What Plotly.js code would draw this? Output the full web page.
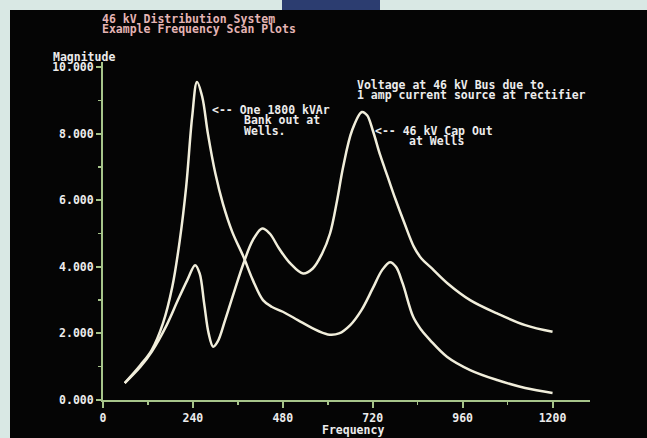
<!DOCTYPE html>
<html>
<head>
<meta charset="utf-8">
<script src="https://cdn.plot.ly/plotly-3.0.1.min.js"></script>
<style>
  html, body { margin: 0; padding: 0; width: 647px; height: 438px; overflow: hidden; background: #d9e8e4; }
  #bluepatch { position: absolute; left: 282px; top: 0; width: 98px; height: 11px; background: #2c3d70; }
  #chart { position: absolute; left: 10px; top: 10px; width: 637px; height: 428px; background: #050505; }
</style>
</head>
<body>
<div id="bluepatch"></div>
<div id="chart"></div>
<script>
// Curve 1: one 1800 kVAr bank out at Wells
const freqA = [58, 100, 130, 160, 185, 205, 222, 238, 251, 265, 280, 300, 320, 345, 375, 400, 427, 450, 480, 520, 560, 600, 630, 660, 690, 720, 745, 766, 782, 800, 828, 850, 873, 918, 980, 1052, 1127, 1200];
const magA  = [0.51, 1.05, 1.5, 2.3, 3.4, 4.8, 6.4, 8.5, 9.55, 9.1, 8.0, 6.8, 5.9, 5.05, 4.3, 3.6, 3.0, 2.8, 2.65, 2.4, 2.15, 1.97, 2.0, 2.25, 2.7, 3.35, 3.9, 4.14, 4.0, 3.5, 2.5, 2.1, 1.8, 1.3, 0.9, 0.6, 0.36, 0.21];
// Curve 2: 46 kV cap out at Wells
const freqB = [58, 100, 130, 170, 200, 225, 246, 258, 270, 282, 294, 306, 326, 350, 375, 400, 425, 445, 470, 500, 534, 560, 585, 606, 625, 641, 665, 691, 705, 720, 740, 760, 780, 805, 830, 850, 878, 920, 980, 1052, 1127, 1200];
const magB  = [0.51, 1.0, 1.45, 2.25, 3.0, 3.6, 4.05, 3.8, 2.9, 2.0, 1.6, 1.75, 2.4, 3.25, 4.1, 4.8, 5.15, 5.0, 4.55, 4.1, 3.8, 3.95, 4.4, 5.0, 6.0, 7.0, 8.1, 8.65, 8.55, 8.1, 7.35, 6.7, 6.05, 5.3, 4.6, 4.25, 3.95, 3.5, 3.0, 2.6, 2.25, 2.05];

const xTicks = [0, 240, 480, 720, 960, 1200];
const yTicks = [0, 2, 4, 6, 8, 10];
const yTickText = ['0.000', '2.000', '4.000', '6.000', '8.000', '10.000'];

const titleLines = ['46 kV Distribution System', 'Example Frequency Scan Plots'];
const yLabel = 'Magnitude';
const xLabel = 'Frequency';
const noteA = ['<-- One 1800 kVAr', 'Bank out at', 'Wells.'];
const noteTop = ['Voltage at 46 kV Bus due to', '1 amp current source at rectifier'];
const noteB = ['<-- 46 kV Cap Out', 'at Wells'];

const FONT = 'DejaVu Sans Mono, Liberation Mono, monospace';
const curveColor = '#f1eedb';
const axisColor = '#a6c48a';
const txt = '#ececec';
const FS = 11.5;

const lineStyle = {color: curveColor, width: 2.5, shape: 'spline', smoothing: 1};
const traces = [
  {x: freqA, y: magA, mode: 'lines', line: lineStyle, hoverinfo: 'skip'},
  {x: freqB, y: magB, mode: 'lines', line: lineStyle, hoverinfo: 'skip'}
];

function ann(text, x, y, xref, yref, color, anchor) {
  return {text: text, x: x, y: y, xref: xref, yref: yref, showarrow: false,
          xanchor: anchor || 'left', yanchor: 'middle',
          font: {family: FONT, size: FS, color: color || txt, weight: 'bold'}};
}

const annotations = [
  ann(titleLines[0], -0.006, 1.127, 'paper', 'paper', '#e4b4b4'),
  ann(titleLines[1], -0.006, 1.097, 'paper', 'paper', '#e4b4b4'),
  ann(yLabel, -0.107, 1.014, 'paper', 'paper'),
  ann(xLabel, 0.513, -0.089, 'paper', 'paper', txt, 'center'),
  ann(noteA[0], 286, 8.71, 'x', 'y'),
  ann(noteA[1], 371, 8.40, 'x', 'y'),
  ann(noteA[2], 371, 8.09, 'x', 'y'),
  ann(noteTop[0], 673, 9.47, 'x', 'y'),
  ann(noteTop[1], 673, 9.16, 'x', 'y'),
  ann(noteB[0], 721, 8.08, 'x', 'y'),
  ann(noteB[1], 812, 7.78, 'x', 'y')
];

const layout = {
  width: 637, height: 428,
  margin: {l: 93, r: 57, t: 52, b: 38},
  paper_bgcolor: '#050505',
  plot_bgcolor: '#050505',
  showlegend: false,
  xaxis: {
    range: [0, 1300], showgrid: false, zeroline: false,
    showline: true, linecolor: axisColor, linewidth: 2,
    tickmode: 'array', tickvals: xTicks, ticktext: xTicks.map(String),
    ticks: 'outside', ticklen: 6, tickwidth: 2, tickcolor: axisColor,
    minor: {dtick: 120, tick0: 0, ticks: 'outside', ticklen: 3, tickcolor: axisColor, tickwidth: 1.5},
    tickfont: {family: FONT, size: FS, color: txt, weight: 'bold'}
  },
  yaxis: {
    range: [0, 10.15], showgrid: false, zeroline: false,
    showline: true, linecolor: axisColor, linewidth: 2,
    tickmode: 'array', tickvals: yTicks, ticktext: yTickText,
    ticks: 'outside', ticklen: 5, tickwidth: 2, tickcolor: axisColor,
    minor: {dtick: 1, tick0: 0, ticks: 'outside', ticklen: 3, tickcolor: axisColor, tickwidth: 1.5},
    tickfont: {family: FONT, size: FS, color: txt, weight: 'bold'}
  },
  annotations: annotations
};

Plotly.newPlot('chart', traces, layout, {staticPlot: true, displayModeBar: false});
</script>
</body>
</html>
